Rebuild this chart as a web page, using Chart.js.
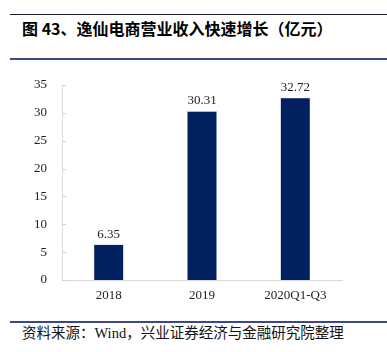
<!DOCTYPE html>
<html><head><meta charset="utf-8">
<script src="https://cdn.jsdelivr.net/npm/chart.js@4"></script>
<style>
html,body{margin:0;padding:0;background:#fff;}
body{width:387px;height:352px;position:relative;overflow:hidden;}
.rule{position:absolute;left:10px;right:0;height:1px;}
#title{position:absolute;left:22px;top:17px;font-family:"Noto Sans CJK SC";font-weight:bold;font-size:16px;color:#000;white-space:nowrap;line-height:22px;}
#src{position:absolute;left:22px;top:324px;font-family:"Liberation Serif","Noto Sans CJK SC";font-size:14.5px;color:#111;white-space:nowrap;line-height:18px;}
#wrap{position:absolute;left:0;top:60px;width:387px;height:255px;}
</style></head>
<body>
<div class="rule" style="top:14px;background:#1a1a2a"></div>
<div id="title">图 43、逸仙电商营业收入快速增长（亿元）</div>
<div class="rule" style="top:58px;height:1.5px;background:#3a4788"></div>
<div id="wrap"><canvas id="c"></canvas></div>
<div class="rule" style="top:321px;height:1.5px;background:#3a4788"></div>
<div id="src">资料来源：Wind，兴业证券经济与金融研究院整理</div>
<script>
const categories = ["2018", "2019", "2020Q1-Q3"];
const revenue = [6.35, 30.31, 32.72];
const yTicks = [0, 5, 10, 15, 20, 25, 30, 35];

const valueLabels = {
  id: 'valueLabels',
  afterDatasetsDraw(chart) {
    const ctx = chart.ctx;
    const meta = chart.getDatasetMeta(0);
    ctx.save();
    ctx.font = '13px "Liberation Serif"';
    ctx.fillStyle = '#222';
    ctx.textAlign = 'center';
    ctx.textBaseline = 'bottom';
    meta.data.forEach((bar, i) => {
      ctx.fillText(revenue[i].toFixed(2), bar.x, bar.y - 4);
    });
    ctx.restore();
  }
};
const innerTicks = {
  id: 'innerTicks',
  afterDraw(chart) {
    const ctx = chart.ctx;
    const y = chart.scales.y;
    const x0 = chart.chartArea.left;
    ctx.save();
    ctx.strokeStyle = '#d0d0d0';
    ctx.lineWidth = 1;
    yTicks.forEach(v => {
      const py = Math.round(y.getPixelForValue(v)) + 0.5;
      ctx.beginPath();
      ctx.moveTo(x0, py);
      ctx.lineTo(x0 + 4, py);
      ctx.stroke();
    });
    ctx.restore();
  }
};

new Chart(document.getElementById('c'), {
  type: 'bar',
  data: {
    labels: categories,
    datasets: [{
      data: revenue,
      backgroundColor: '#002060',
      borderColor: '#9aa8c4',
      borderWidth: 0.5,
      barPercentage: 0.32,
      categoryPercentage: 1.0
    }]
  },
  options: {
    responsive: true,
    maintainAspectRatio: false,
    animation: false,
    devicePixelRatio: 1,
    layout: { padding: { left: 0, right: 45, top: 25, bottom: 0 } },
    plugins: { legend: { display: false }, tooltip: { enabled: false } },
    scales: {
      x: {
        grid: { display: false, drawTicks: false },
        border: { color: '#d9d9d9', width: 1 },
        ticks: { font: { family: 'Liberation Serif', size: 13 }, color: '#222', padding: 8 },
        afterFit(s) { s.height = 35; }
      },
      y: {
        min: 0, max: 35,
        afterBuildTicks(s) { s.ticks = yTicks.map(v => ({ value: v })); },
        grid: { display: false, drawTicks: false },
        border: { color: '#d9d9d9', width: 1 },
        ticks: { font: { family: 'Liberation Serif', size: 13 }, color: '#222', padding: 15 },
        afterFit(s) { s.width = 62; }
      }
    }
  },
  plugins: [valueLabels, innerTicks]
});
</script>
</body></html>
